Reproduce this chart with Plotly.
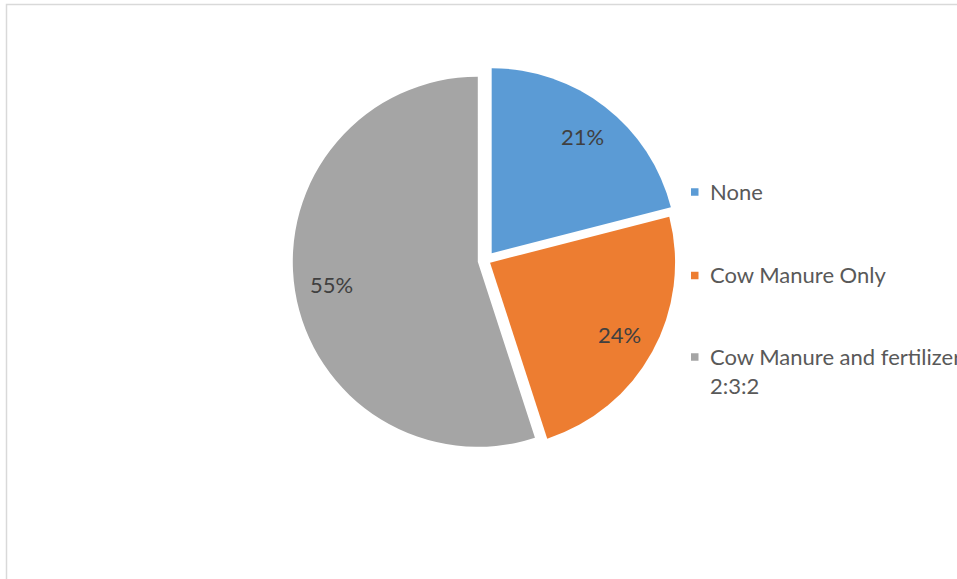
import math
import plotly.graph_objects as go

# Share of plots by soil treatment
categories = ["None", "Cow Manure Only", "Cow Manure and fertilizer 2:3:2"]
legend_text = ["None", "Cow Manure Only", "Cow Manure and fertilizer<br>2:3:2"]
values = [21, 24, 55]
colors = ["#5B9BD5", "#ED7D31", "#A5A5A5"]

W, H = 957, 579
PULLS = [0.05, 0.025, 0.045]
DOM_X = [0.2466, 0.7691]
DOM_Y = [0.2146, 0.8856]
FONT = "Lato"

fig = go.Figure(
    go.Pie(
        labels=categories,
        values=values,
        marker=dict(colors=colors, line=dict(width=0)),
        pull=PULLS,
        sort=False,
        direction="clockwise",
        rotation=0,
        textinfo="none",
        hoverinfo="label+percent",
        showlegend=False,
        domain=dict(x=DOM_X, y=DOM_Y),
    )
)

# pie geometry in pixels, following plotly's own sizing of a pulled pie
max_pull = max(PULLS)
cx = W * (DOM_X[0] + DOM_X[1]) / 2
cy = H * (1 - (DOM_Y[0] + DOM_Y[1]) / 2)
r = min(W * (DOM_X[1] - DOM_X[0]) / 2, H * (DOM_Y[1] - DOM_Y[0]) / 2) / (1 + max_pull)

total = sum(values)
start = 0.0
for v, p in zip(values, PULLS):
    frac = v / total
    mid = (start + frac / 2) * 2 * math.pi
    ox = cx + p * r * math.sin(mid)
    oy = cy - p * r * math.cos(mid)
    lx = ox + 0.8 * r * math.sin(mid)
    ly = oy - 0.8 * r * math.cos(mid)
    fig.add_annotation(
        x=lx / W, y=1 - ly / H, xref="paper", yref="paper",
        text=f"{round(frac * 100)}%", showarrow=False,
        font=dict(family=FONT, size=22, color="#404040"),
        xanchor="center", yanchor="middle",
    )
    start += frac

# legend: small squares with labels to the right of the pie
leg_x = 691
leg_y = [192, 275.5, 357]
sq = 7.5
for txt, col, y in zip(legend_text, colors, leg_y):
    fig.add_shape(
        type="rect", xref="paper", yref="paper",
        x0=leg_x / W, x1=(leg_x + sq) / W,
        y0=1 - (y + sq / 2) / H, y1=1 - (y - sq / 2) / H,
        fillcolor=col, line=dict(width=0),
    )
    fig.add_annotation(
        x=(leg_x + 17) / W, y=1 - (y - 0.65 * 22 - 2) / H,
        xref="paper", yref="paper",
        text=txt, showarrow=False, align="left",
        font=dict(family=FONT, size=22, color="#595959"),
        xanchor="left", yanchor="top",
    )

# chart area border
fig.add_shape(
    type="rect", xref="paper", yref="paper",
    x0=6.5 / W, x1=1.05, y0=-0.05, y1=1 - 4.5 / H,
    line=dict(color="#D9D9D9", width=1.5), fillcolor="rgba(0,0,0,0)",
)

fig.update_layout(
    width=W, height=H,
    margin=dict(l=0, r=0, t=0, b=0),
    paper_bgcolor="white",
    plot_bgcolor="white",
    font=dict(family=FONT),
)

fig.write_html("out.html")
